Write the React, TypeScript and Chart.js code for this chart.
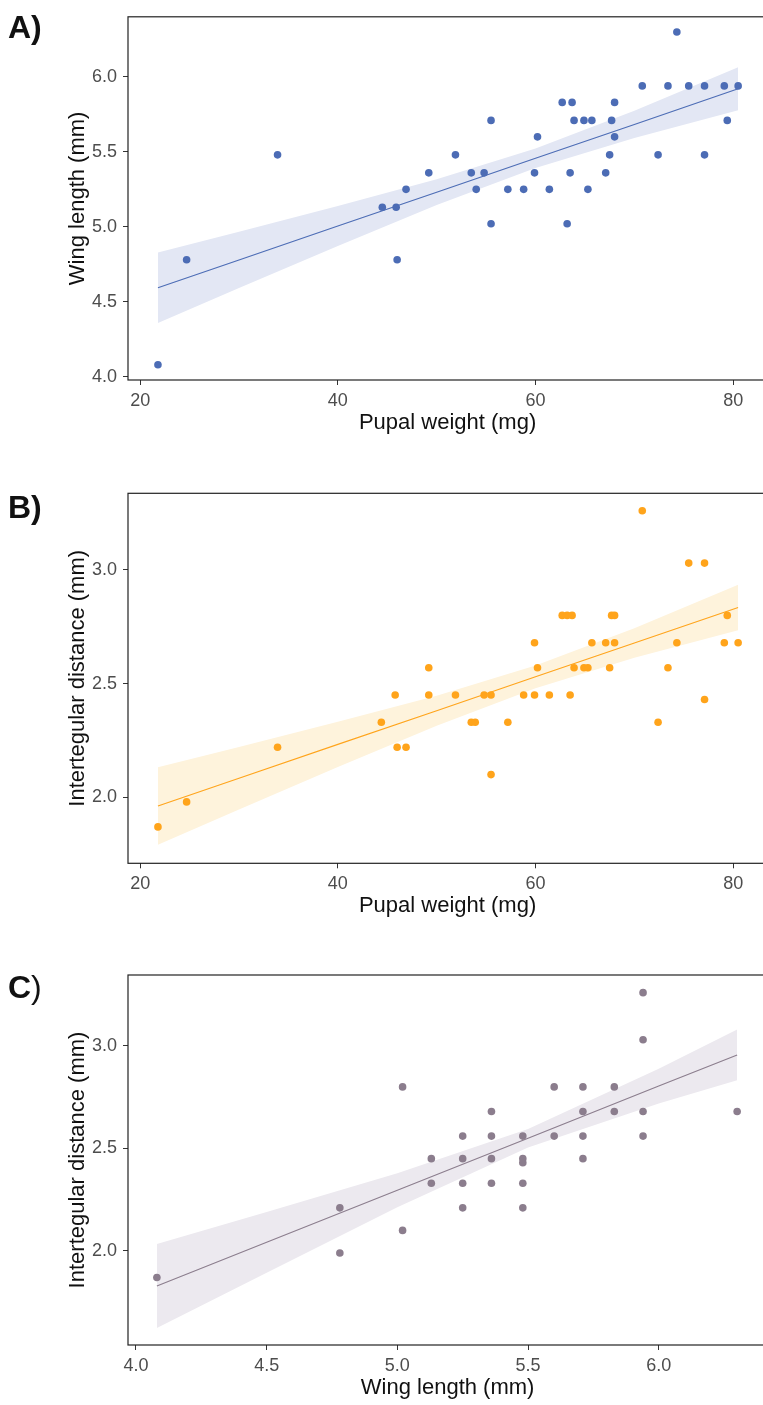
import React, { useEffect, useRef } from "react";
import { Chart, registerables } from "chart.js";

Chart.register(...registerables);

// ---------- Panel A: pupal weight vs wing length ----------
const weightA = [21.8, 24.7, 33.9, 44.5, 45.9, 46.0, 46.9, 49.2, 51.9, 53.5, 54.0, 54.8, 55.5, 55.5, 57.2, 58.8, 60.2, 59.9, 61.4, 62.7, 63.7, 63.9, 63.5, 63.2, 64.9, 65.7, 65.3, 67.1, 67.5, 67.7, 68.0, 68.0, 70.8, 72.4, 73.4, 74.3, 75.5, 77.1, 77.1, 79.1, 79.4, 80.5];
const wingA = [4.08, 4.78, 5.48, 5.13, 5.13, 4.78, 5.25, 5.36, 5.48, 5.36, 5.25, 5.36, 5.71, 5.02, 5.25, 5.25, 5.60, 5.36, 5.25, 5.83, 5.83, 5.71, 5.36, 5.02, 5.71, 5.71, 5.25, 5.36, 5.48, 5.71, 5.83, 5.60, 5.94, 5.48, 5.94, 6.30, 5.94, 5.94, 5.48, 5.94, 5.71, 5.94];
const fitXA = [21.8, 30, 40, 50, 60, 70, 80.5];
const fitYA = [4.594, 4.779, 5.005, 5.231, 5.457, 5.683, 5.921];
const upperA = [4.829, 4.967, 5.138, 5.317, 5.522, 5.774, 6.064];
const lowerA = [4.359, 4.591, 4.872, 5.145, 5.392, 5.592, 5.778];

// ---------- Panel B: pupal weight vs intertegular distance ----------
const weightB = [21.8, 24.7, 33.9, 44.4, 45.8, 46.0, 46.9, 49.2, 49.2, 51.9, 53.5, 53.9, 54.8, 55.5, 55.5, 57.2, 58.8, 59.9, 59.9, 60.2, 61.4, 62.7, 63.2, 63.7, 63.5, 63.9, 64.9, 65.3, 65.7, 67.1, 67.5, 67.7, 68.0, 68.0, 70.8, 72.4, 73.4, 74.3, 75.5, 77.1, 77.1, 79.1, 79.4, 80.5];
const itdB = [1.87, 1.98, 2.22, 2.33, 2.45, 2.22, 2.22, 2.57, 2.45, 2.45, 2.33, 2.33, 2.45, 2.45, 2.10, 2.33, 2.45, 2.68, 2.45, 2.57, 2.45, 2.80, 2.80, 2.80, 2.45, 2.57, 2.57, 2.57, 2.68, 2.68, 2.57, 2.80, 2.80, 2.68, 3.26, 2.33, 2.57, 2.68, 3.03, 3.03, 2.43, 2.68, 2.80, 2.68];
const fitXB = [21.8, 30, 40, 50, 60, 70, 80.5];
const fitYB = [1.962, 2.084, 2.233, 2.381, 2.530, 2.679, 2.835];
const upperB = [2.132, 2.221, 2.332, 2.447, 2.580, 2.744, 2.935];
const lowerB = [1.792, 1.947, 2.134, 2.315, 2.480, 2.614, 2.735];

// ---------- Panel C: wing length vs intertegular distance ----------
const wingC = [4.08, 4.78, 4.78, 5.02, 5.02, 5.13, 5.13, 5.25, 5.25, 5.25, 5.25, 5.36, 5.36, 5.36, 5.36, 5.48, 5.48, 5.48, 5.48, 5.48, 5.60, 5.60, 5.71, 5.71, 5.71, 5.71, 5.83, 5.83, 5.94, 5.94, 5.94, 5.94, 6.30];
const itdC = [1.87, 2.21, 1.99, 2.80, 2.10, 2.45, 2.33, 2.56, 2.45, 2.33, 2.21, 2.68, 2.56, 2.45, 2.33, 2.56, 2.45, 2.43, 2.33, 2.21, 2.80, 2.56, 2.80, 2.68, 2.56, 2.45, 2.80, 2.68, 3.26, 3.03, 2.68, 2.56, 2.68];
const fitXC = [4.08, 4.5, 5.0, 5.5, 6.0, 6.30];
const fitYC = [1.829, 2.042, 2.296, 2.550, 2.804, 2.956];
const upperC = [2.034, 2.190, 2.379, 2.595, 2.889, 3.080];
const lowerC = [1.624, 1.894, 2.213, 2.505, 2.719, 2.832];

// ---------- tick labels ----------
const weightTicks = [20, 40, 60, 80];
const wingTicksA = [4.0, 4.5, 5.0, 5.5, 6.0];
const itdTicks = [2.0, 2.5, 3.0];
const wingTicksC = [4.0, 4.5, 5.0, 5.5, 6.0];

const FONT = "'Liberation Sans', Arial, Helvetica, sans-serif";

const borderPlugin = {
  id: "panelBorder",
  afterDraw(chart: any) {
    const { ctx, chartArea } = chart;
    const { left, top, right, bottom } = chartArea;
    ctx.save();
    ctx.strokeStyle = "#222222";
    ctx.lineWidth = 1.2;
    ctx.strokeRect(left, top, right - left, bottom - top);
    ctx.restore();
  },
};

type PanelProps = {
  top: number;
  height: number;
  plotTop: number;
  plotBottom: number;
  xs: number[];
  ys: number[];
  fitX: number[];
  fitY: number[];
  upper: number[];
  lower: number[];
  xMin: number;
  xMax: number;
  yMin: number;
  yMax: number;
  xTicks: number[];
  yTicks: number[];
  xDec: number;
  yDec: number;
  xTitle: string;
  yTitle: string;
  color: string;
  band: string;
  titlePadBottom: number;
};

const WIDTH = 771;

function Panel(p: PanelProps) {
  const ref = useRef<HTMLCanvasElement | null>(null);
  useEffect(() => {
    if (!ref.current) return;
    const zip = (a: number[], b: number[]) => a.map((v, i) => ({ x: v, y: b[i] }));
    const chart = new Chart(ref.current, {
      type: "scatter",
      data: {
        datasets: [
          {
            type: "scatter",
            data: zip(p.xs, p.ys),
            backgroundColor: p.color,
            borderWidth: 0,
            pointRadius: 3.8,
            pointHoverRadius: 3.8,
          } as any,
          {
            type: "line",
            data: zip(p.fitX, p.fitY),
            borderColor: p.color,
            borderWidth: 1.1,
            pointRadius: 0,
            fill: false,
            tension: 0,
          } as any,
          {
            type: "line",
            data: zip(p.fitX, p.upper),
            borderColor: "rgba(0,0,0,0)",
            borderWidth: 0,
            pointRadius: 0,
            backgroundColor: p.band,
            fill: "+1",
            tension: 0,
          } as any,
          {
            type: "line",
            data: zip(p.fitX, p.lower),
            borderColor: "rgba(0,0,0,0)",
            borderWidth: 0,
            pointRadius: 0,
            fill: false,
            tension: 0,
          } as any,
        ],
      },
      options: {
        responsive: false,
        animation: false,
        devicePixelRatio: 1,
        events: [],
        layout: { padding: { top: p.plotTop, left: 0, right: 1, bottom: 0 } },
        plugins: {
          legend: { display: false },
          tooltip: { enabled: false },
          title: { display: false },
        },
        scales: {
          x: {
            type: "linear",
            position: "bottom",
            min: p.xMin,
            max: p.xMax,
            afterBuildTicks: (s: any) => {
              s.ticks = p.xTicks.map((v) => ({ value: v }));
            },
            afterFit: (s: any) => {
              s.height = p.height - p.plotBottom;
            },
            grid: {
              display: true,
              drawOnChartArea: false,
              drawTicks: true,
              tickLength: 5,
              color: "#333333",
              lineWidth: 1,
            },
            border: { display: false },
            ticks: {
              padding: 5,
              color: "#4D4D4D",
              font: { family: FONT, size: 18 },
              autoSkip: false,
              maxRotation: 0,
              callback: (v: any) => Number(v).toFixed(p.xDec),
            },
            title: {
              display: true,
              text: p.xTitle,
              color: "#111111",
              font: { family: FONT, size: 22 },
              padding: { top: 0, bottom: p.titlePadBottom },
            },
          },
          y: {
            type: "linear",
            position: "left",
            min: p.yMin,
            max: p.yMax,
            afterBuildTicks: (s: any) => {
              s.ticks = p.yTicks.map((v) => ({ value: v }));
            },
            afterFit: (s: any) => {
              s.width = 128;
            },
            grid: {
              display: true,
              drawOnChartArea: false,
              drawTicks: true,
              tickLength: 5,
              color: "#333333",
              lineWidth: 1,
            },
            border: { display: false },
            ticks: {
              padding: 6,
              color: "#4D4D4D",
              font: { family: FONT, size: 18 },
              autoSkip: false,
              callback: (v: any) => Number(v).toFixed(p.yDec),
            },
            title: {
              display: true,
              text: p.yTitle,
              color: "#111111",
              font: { family: FONT, size: 22 },
              padding: { top: 64.8, bottom: 0 },
            },
          },
        },
      } as any,
      plugins: [borderPlugin],
    });
    return () => chart.destroy();
  }, []);
  return (
    <canvas
      ref={ref}
      width={WIDTH}
      height={p.height}
      style={{ position: "absolute", left: 0, top: p.top, width: WIDTH, height: p.height }}
    />
  );
}

const labelStyle = (top: number): React.CSSProperties => ({
  position: "absolute",
  left: 8,
  top,
  fontFamily: FONT,
  fontSize: 32,
  lineHeight: "32px",
  fontWeight: 700,
  color: "#111111",
});

export default function App() {
  return (
    <div
      style={{
        position: "fixed",
        left: 0,
        top: 0,
        width: 763,
        height: 1405,
        overflow: "hidden",
        background: "#ffffff",
      }}
    >
      <Panel
        top={0}
        height={440}
        plotTop={11.7}
        plotBottom={380}
        xs={weightA}
        ys={wingA}
        fitX={fitXA}
        fitY={fitYA}
        upper={upperA}
        lower={lowerA}
        xMin={18.77}
        xMax={83.44}
        yMin={3.978}
        yMax={6.401}
        xTicks={weightTicks}
        yTicks={wingTicksA}
        xDec={0}
        yDec={1}
        xTitle="Pupal weight (mg)"
        yTitle="Wing length (mm)"
        color="#4C6CB5"
        band="#E3E7F4"
        titlePadBottom={3.8}
      />
      <Panel
        top={440}
        height={490}
        plotTop={53.3}
        plotBottom={423.3}
        xs={weightB}
        ys={itdB}
        fitX={fitXB}
        fitY={fitYB}
        upper={upperB}
        lower={lowerB}
        xMin={18.77}
        xMax={83.44}
        yMin={1.71}
        yMax={3.337}
        xTicks={weightTicks}
        yTicks={itdTicks}
        xDec={0}
        yDec={1}
        xTitle="Pupal weight (mg)"
        yTitle="Intertegular distance (mm)"
        color="#FFA41B"
        band="#FEF3DC"
        titlePadBottom={10.8}
      />
      <Panel
        top={930}
        height={475}
        plotTop={45}
        plotBottom={415}
        xs={wingC}
        ys={itdC}
        fitX={fitXC}
        fitY={fitYC}
        upper={upperC}
        lower={lowerC}
        xMin={3.9695}
        xMax={6.415}
        yMin={1.541}
        yMax={3.346}
        xTicks={wingTicksC}
        yTicks={itdTicks}
        xDec={1}
        yDec={1}
        xTitle="Wing length (mm)"
        yTitle="Intertegular distance (mm)"
        color="#8B7D8D"
        band="#ECE9EF"
        titlePadBottom={3.8}
      />
      <div style={labelStyle(10.8)}>A)</div>
      <div style={labelStyle(490.8)}>B)</div>
      <div style={labelStyle(970.8)}>
        C<span style={{ fontWeight: 400 }}>)</span>
      </div>
    </div>
  );
}
